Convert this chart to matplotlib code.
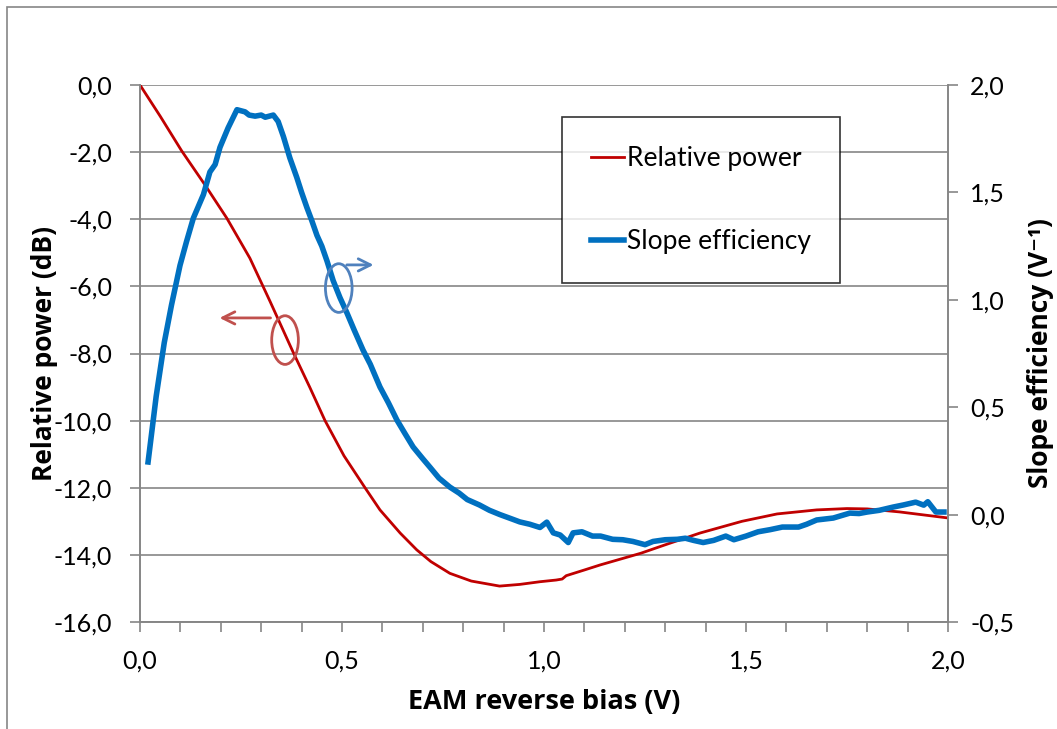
import matplotlib
matplotlib.use("Agg")
from matplotlib import pyplot as plt
from matplotlib.patches import Ellipse, Rectangle
from matplotlib.ticker import FuncFormatter, MultipleLocator

# relative power (dB), left axis
bias_power = [0, 0.05, 0.103, 0.161, 0.215, 0.272, 0.322, 0.379, 0.42, 0.458, 0.505, 0.557,
              0.594, 0.644, 0.685, 0.72, 0.767, 0.82, 0.89, 0.94, 0.99, 1.03, 1.045, 1.055,
              1.1, 1.139, 1.24, 1.3, 1.386, 1.49, 1.577, 1.675, 1.75, 1.8, 1.88, 1.98, 2.0]
rel_power = [0, -0.93, -1.96, -2.98, -3.97, -5.16, -6.45, -7.96, -9.0, -10.0, -11.05, -12.0,
             -12.66, -13.35, -13.85, -14.2, -14.55, -14.78, -14.93, -14.88, -14.8, -14.75,
             -14.72, -14.62, -14.45, -14.3, -13.95, -13.7, -13.35, -13.0, -12.78, -12.66,
             -12.62, -12.63, -12.72, -12.87, -12.9]

# slope efficiency (1/V), right axis
bias_slope = [0.02, 0.04, 0.06, 0.078, 0.099, 0.115, 0.132, 0.157, 0.173, 0.186, 0.198, 0.218,
              0.24, 0.25, 0.26, 0.27, 0.285, 0.30, 0.31, 0.32, 0.33, 0.342, 0.355, 0.371,
              0.388, 0.40, 0.413, 0.425, 0.438, 0.45, 0.463, 0.478, 0.495, 0.512, 0.53, 0.552,
              0.57, 0.594, 0.615, 0.636, 0.655, 0.676, 0.70, 0.718, 0.74, 0.767, 0.79, 0.81,
              0.84, 0.865, 0.891, 0.92, 0.94, 0.965, 0.99, 1.007, 1.023, 1.04, 1.06, 1.072,
              1.094, 1.12, 1.14, 1.17, 1.195, 1.22, 1.25, 1.27, 1.30, 1.33, 1.35, 1.37, 1.394,
              1.42, 1.45, 1.47, 1.50, 1.53, 1.56, 1.59, 1.63, 1.65, 1.675, 1.716, 1.757, 1.78,
              1.80, 1.83, 1.864, 1.89, 1.92, 1.94, 1.95, 1.97, 1.99]
slope_eff = [0.245, 0.55, 0.80, 0.976, 1.16, 1.27, 1.38, 1.49, 1.595, 1.63, 1.71, 1.80,
             1.885, 1.88, 1.875, 1.86, 1.855, 1.86, 1.85, 1.855, 1.86, 1.83, 1.76, 1.66,
             1.57, 1.50, 1.43, 1.37, 1.30, 1.25, 1.18, 1.09, 1.01, 0.94, 0.86, 0.766,
             0.70, 0.594, 0.52, 0.44, 0.38, 0.315, 0.26, 0.22, 0.17, 0.128, 0.10, 0.07,
             0.045, 0.02, 0.0, -0.02, -0.034, -0.045, -0.06, -0.035, -0.085, -0.095, -0.13, -0.085,
             -0.08, -0.10, -0.10, -0.115, -0.117, -0.125, -0.14, -0.125, -0.117, -0.115, -0.11, -0.12, -0.13,
             -0.12, -0.10, -0.117, -0.10, -0.08, -0.07, -0.058, -0.058, -0.045, -0.025, -0.016, 0.007, 0.005,
             0.012, 0.02, 0.035, 0.045, 0.058, 0.044, 0.06, 0.012, 0.012]

plt.rcParams["font.family"] = ["Lato", "DejaVu Sans"]
BOLD = ["Open Sans", "DejaVu Sans"]
GRAY = "#868686"

fig = plt.figure(figsize=(10.57, 7.29), dpi=100)
ax = fig.add_axes([140 / 1057, 1 - 622 / 729, 808 / 1057, 537 / 729])
ax2 = ax.twinx()

# chart area border
fig.patches.append(Rectangle((7 / 1057, -0.1), 1.2, 1 - 7 / 729 + 0.1, transform=fig.transFigure,
                             fill=False, edgecolor=GRAY, linewidth=1.2))

ax.plot(bias_power, rel_power, color="#C00000", linewidth=2.0, label="Relative power")
ax2.plot(bias_slope, slope_eff, color="#0070C0", linewidth=4.0, label="Slope efficiency")

ax.set_xlim(0, 2)
ax.set_ylim(-16, 0)
ax2.set_ylim(-0.5, 2.0)

comma = FuncFormatter(lambda v, p: f"{v:.1f}".replace(".", ","))
ax.xaxis.set_major_locator(MultipleLocator(0.5))
ax.xaxis.set_minor_locator(MultipleLocator(0.1))
ax.yaxis.set_major_locator(MultipleLocator(2))
ax2.yaxis.set_major_locator(MultipleLocator(0.5))
for a in (ax.xaxis, ax.yaxis, ax2.yaxis):
    a.set_major_formatter(comma)

ax.grid(axis="y", color=GRAY, linewidth=1.2)
ax.set_axisbelow(True)
for a in (ax, ax2):
    for s in a.spines.values():
        s.set_color(GRAY)
        s.set_linewidth(1.2)
ax.spines["top"].set_visible(False)
ax2.spines["top"].set_visible(False)

ax.tick_params(axis="x", which="both", direction="out", length=7, width=1.2, color=GRAY,
               labelsize=18, pad=13)
ax.tick_params(axis="y", direction="out", length=7, width=1.2, color=GRAY, labelsize=18, pad=13)
ax2.tick_params(axis="y", direction="out", length=7, width=1.2, color=GRAY, labelsize=18, pad=9)

ax.set_xlabel("EAM reverse bias (V)", fontsize=19.5, fontweight="bold", family=BOLD, labelpad=12)
ax.set_ylabel("Relative power (dB)", fontsize=19, fontweight="bold", family=BOLD, labelpad=-3)
ax2.set_ylabel("Slope efficiency (V⁻¹)", fontsize=19, fontweight="bold", family=BOLD, labelpad=9)

# ellipse + arrow annotations
ax2.add_patch(Ellipse((0.359, -7.6), 0.066, 1.45, transform=ax.transData, fill=False,
                      edgecolor="#C0504D", linewidth=2.0, zorder=5))
ax2.annotate("", xy=(0.19, -6.94), xytext=(0.33, -6.94), xycoords=ax.transData,
             textcoords=ax.transData,
             arrowprops=dict(arrowstyle="->", color="#C0504D", lw=2.0, mutation_scale=22))
ax2.add_patch(Ellipse((0.492, -6.05), 0.066, 1.45, transform=ax.transData, fill=False,
                      edgecolor="#4F81BD", linewidth=2.0, zorder=5))
ax2.annotate("", xy=(0.585, -5.36), xytext=(0.505, -5.36), xycoords=ax.transData,
             textcoords=ax.transData,
             arrowprops=dict(arrowstyle="->", color="#4F81BD", lw=2.0, mutation_scale=22))

h1, l1 = ax.get_legend_handles_labels()
h2, l2 = ax2.get_legend_handles_labels()
leg = ax2.legend(h1 + h2, l1 + l2, loc="upper left", bbox_to_anchor=(562 / 1057, 1 - 117 / 729),
                 bbox_transform=fig.transFigure, fontsize=19, frameon=True, fancybox=False,
                 borderpad=1.1, labelspacing=2.2, handlelength=1.25, handletextpad=0.1,
                 borderaxespad=0)
leg.get_frame().set_edgecolor("black")
leg.get_frame().set_linewidth(1.2)

fig.savefig("out.png", dpi=100)
